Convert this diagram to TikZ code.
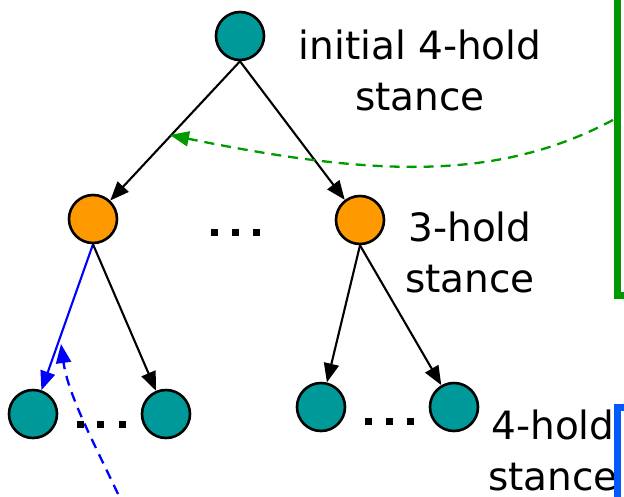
\documentclass[tikz,border=0pt]{standalone}
\usepackage{fontspec}
\setmainfont{DejaVu Sans}
\usetikzlibrary{arrows.meta}
\definecolor{teal}{RGB}{0,153,153}
\definecolor{orng}{RGB}{255,153,0}
\definecolor{grn}{RGB}{0,153,0}
\definecolor{blu}{RGB}{0,0,255}
\definecolor{boxblue}{RGB}{0,90,255}
\tikzset{
  state/.style={circle,draw=black,line width=2.6pt,minimum size=48pt,inner sep=0pt},
  fourhold/.style={state,fill=teal},
  threehold/.style={state,fill=orng},
  edge/.style={line width=2.1pt,-{Triangle[length=19pt,width=15pt]}},
  sq/.style={rectangle,fill=black,minimum size=7pt,inner sep=0pt},
  lab/.style={align=center,font=\fontsize{39}{51}\selectfont,inner sep=0pt},
  dashedarrow/.style={line width=2.3pt,dash pattern=on 10pt off 7pt,-{Triangle[length=19pt,width=15pt]}},
}
\begin{document}
\begin{tikzpicture}[x=1pt,y=-1pt]
\useasboundingbox (0,0) rectangle (624,496);
% nodes
\node[fourhold] (top) at (240,36) {};
\node[threehold] (L) at (93,219) {};
\node[threehold] (R) at (360,220) {};
\node[fourhold] (LL) at (33,414) {};
\node[fourhold] (LR) at (166,414) {};
\node[fourhold] (RL) at (321,407) {};
\node[fourhold] (RR) at (454,407) {};
% dots
\node[sq] (d1) at (214,232) {};
\node[sq] (d2) at (235,232) {};
\node[sq] (d3) at (256,232) {};
\node[sq] (e1) at (80,424) {};
\node[sq] (e2) at (100,424) {};
\node[sq] (e3) at (122,424) {};
\node[sq] (f1) at (368,421) {};
\node[sq] (f2) at (389,421) {};
\node[sq] (f3) at (410,421) {};
% labels
\node[lab] (t1) at (420,70) {initial 4-hold\\stance};
\node[lab] (t2) at (470,252) {3-hold\\stance};
\node[lab] (t3) at (553,450) {4-hold\\stance};
% edges
\draw[edge] (top.south) -- (L);
\draw[edge] (top.south) -- (R);
\draw[edge,draw=blu,fill=blu] (L.south) -- (LL);
\draw[edge] (L.south) -- (LR);
\draw[edge] (R.south) -- (RL);
\draw[edge] (R.south) -- (RR);
% boxes
\draw[grn,line width=7pt] (617,-20) rectangle (660,295);
\draw[boxblue,line width=7pt] (617,407) rectangle (660,520);
% dashed arrows
\coordinate (gs) at (613,120);
\coordinate (gt) at (170,135);
\draw[grn,dashedarrow] (gs) .. controls (500,180) and (380,178) .. (gt);
\coordinate (bs) at (118,494);
\coordinate (bt) at (61,344);
\draw[blu,dashedarrow] (bs) .. controls (95,445) and (68,395) .. (bt);
\end{tikzpicture}
\end{document}
